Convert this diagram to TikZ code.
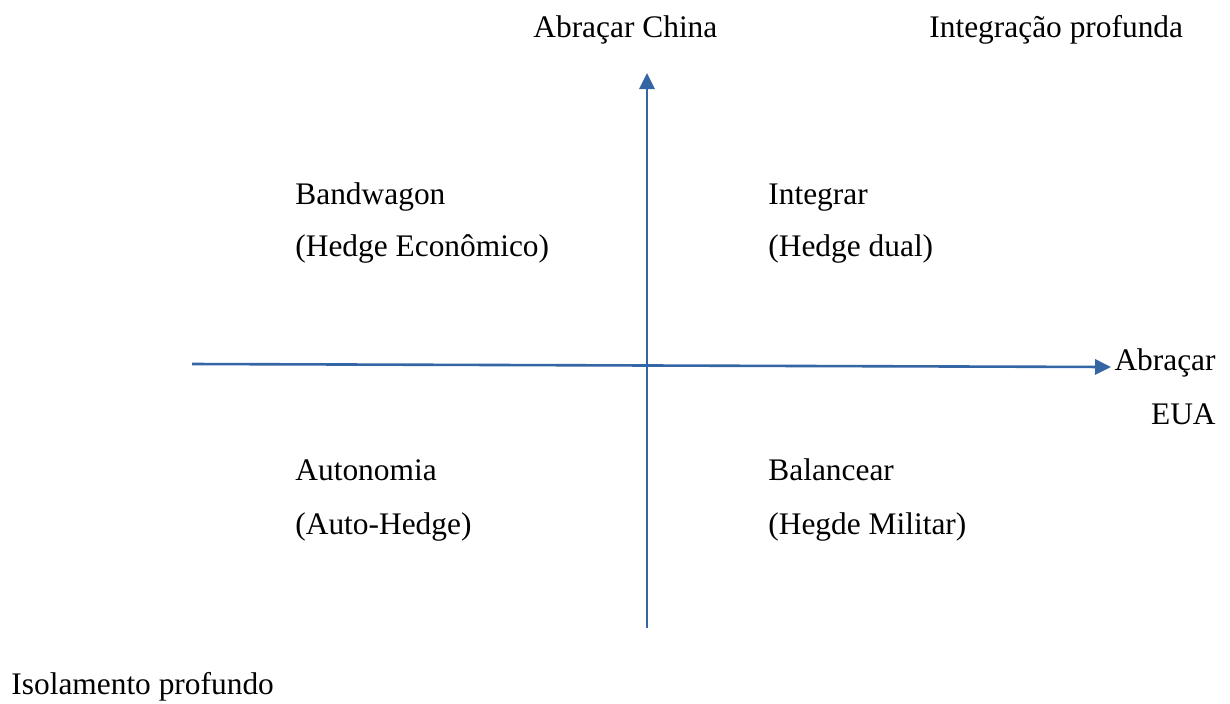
\documentclass[tikz,border=0pt]{standalone}
\usepackage{fontspec}
\setmainfont{Liberation Serif}
\usepackage{xcolor}
\usetikzlibrary{positioning,arrows.meta}

\definecolor{axisblue}{RGB}{52,101,164}

\begin{document}
\begin{tikzpicture}[x=0.5pt,y=-0.5pt,
   lbl/.style={inner sep=0pt,anchor=base west,font=\fontsize{15.7}{19}\selectfont},
   axisline/.style={draw=axisblue,line width=1.3pt,-{Triangle[length=8pt,width=7.6pt]}}]
   \useasboundingbox (0,0) rectangle (1230,703);

   % axes
   \coordinate (vlow) at (647,628);
   \coordinate (vtop) at (647,73);
   \coordinate (hleft) at (192,364);
   \coordinate (hright) at (1111,367);

   % top labels
   \node[lbl] (china) at (533,37) {Abraçar China};
   \node[lbl] (deepint) at (929,37) {Integração profunda};

   % quadrants
   \node[lbl] (bandw) at (295,204) {Bandwagon};
   \node[lbl, below=26pt of bandw.base west, anchor=base west] (bandwsub) {(Hedge Econômico)};
   \node[lbl] (integ) at (768,204) {Integrar};
   \node[lbl, below=26pt of integ.base west, anchor=base west] (integsub) {(Hedge dual)};
   \node[lbl] (auton) at (295,480) {Autonomia};
   \node[lbl, below=27pt of auton.base west, anchor=base west] (autonsub) {(Auto-Hedge)};
   \node[lbl] (balan) at (768,480) {Balancear};
   \node[lbl, below=27pt of balan.base west, anchor=base west] (balansub) {(Hegde Militar)};

   % right label
   \node[lbl, anchor=base east] (eua) at (1216,370) {Abraçar};
   \node[lbl, below=27pt of eua.base east, anchor=base east] (euasub) {EUA};

   % bottom label
   \node[lbl] (isol) at (11,694) {Isolamento profundo};

   \path[axisline] (vlow) -- (vtop);
   \path[axisline] (hleft) -- (hright);
\end{tikzpicture}
\end{document}
